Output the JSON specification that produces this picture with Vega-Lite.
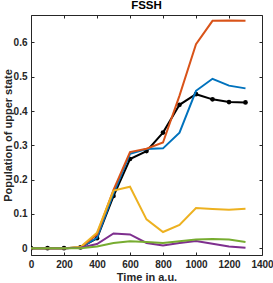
{
  "$schema": "https://vega.github.io/schema/vega-lite/v6.json",
  "width": 231,
  "height": 240,
  "autosize": {"type": "none"},
  "padding": {"left": 31, "top": 15, "right": 11, "bottom": 28},
  "background": "white",
  "title": {"text": "FSSH", "font": "Liberation Sans", "fontSize": 11.5, "fontWeight": "bold", "color": "black", "offset": 3},
  "config": {
    "view": {"stroke": null},
    "axis": {"grid": false, "domainColor": "#262626", "tickColor": "#262626", "labelColor": "#262626", "titleColor": "#262626", "labelFont": "Liberation Sans", "titleFont": "Liberation Sans", "labelFontWeight": "bold", "titleFontWeight": "bold", "labelFontSize": 10, "titleFontSize": 11, "domainWidth": 1, "tickWidth": 1, "labelOverlap": false, "labelFlush": false}
  },
  "datasets": {
    "curves": [
      {"s": "blue", "t": 0, "v": 0}, {"s": "blue", "t": 100, "v": 0}, {"s": "blue", "t": 200, "v": 0}, {"s": "blue", "t": 300, "v": 0.002}, {"s": "blue", "t": 400, "v": 0.03}, {"s": "blue", "t": 500, "v": 0.16}, {"s": "blue", "t": 600, "v": 0.275}, {"s": "blue", "t": 700, "v": 0.289}, {"s": "blue", "t": 800, "v": 0.291}, {"s": "blue", "t": 900, "v": 0.337}, {"s": "blue", "t": 1000, "v": 0.459}, {"s": "blue", "t": 1100, "v": 0.494}, {"s": "blue", "t": 1200, "v": 0.474}, {"s": "blue", "t": 1300, "v": 0.466},
      {"s": "orange", "t": 0, "v": 0}, {"s": "orange", "t": 100, "v": 0}, {"s": "orange", "t": 200, "v": 0}, {"s": "orange", "t": 300, "v": 0.002}, {"s": "orange", "t": 400, "v": 0.04}, {"s": "orange", "t": 500, "v": 0.17}, {"s": "orange", "t": 600, "v": 0.28}, {"s": "orange", "t": 700, "v": 0.29}, {"s": "orange", "t": 800, "v": 0.308}, {"s": "orange", "t": 900, "v": 0.445}, {"s": "orange", "t": 1000, "v": 0.595}, {"s": "orange", "t": 1100, "v": 0.663}, {"s": "orange", "t": 1200, "v": 0.664}, {"s": "orange", "t": 1300, "v": 0.663},
      {"s": "yellow", "t": 0, "v": 0}, {"s": "yellow", "t": 100, "v": 0}, {"s": "yellow", "t": 200, "v": 0}, {"s": "yellow", "t": 300, "v": 0.003}, {"s": "yellow", "t": 400, "v": 0.045}, {"s": "yellow", "t": 500, "v": 0.168}, {"s": "yellow", "t": 600, "v": 0.179}, {"s": "yellow", "t": 700, "v": 0.084}, {"s": "yellow", "t": 800, "v": 0.047}, {"s": "yellow", "t": 900, "v": 0.068}, {"s": "yellow", "t": 1000, "v": 0.117}, {"s": "yellow", "t": 1100, "v": 0.114}, {"s": "yellow", "t": 1200, "v": 0.112}, {"s": "yellow", "t": 1300, "v": 0.115},
      {"s": "purple", "t": 0, "v": 0}, {"s": "purple", "t": 100, "v": 0}, {"s": "purple", "t": 200, "v": 0}, {"s": "purple", "t": 300, "v": 0.001}, {"s": "purple", "t": 400, "v": 0.012}, {"s": "purple", "t": 500, "v": 0.043}, {"s": "purple", "t": 600, "v": 0.04}, {"s": "purple", "t": 700, "v": 0.015}, {"s": "purple", "t": 800, "v": 0.008}, {"s": "purple", "t": 900, "v": 0.015}, {"s": "purple", "t": 1000, "v": 0.021}, {"s": "purple", "t": 1100, "v": 0.013}, {"s": "purple", "t": 1200, "v": 0.005}, {"s": "purple", "t": 1300, "v": 0.001},
      {"s": "green", "t": 0, "v": 0}, {"s": "green", "t": 100, "v": 0}, {"s": "green", "t": 200, "v": 0}, {"s": "green", "t": 300, "v": 0}, {"s": "green", "t": 400, "v": 0.005}, {"s": "green", "t": 500, "v": 0.015}, {"s": "green", "t": 600, "v": 0.02}, {"s": "green", "t": 700, "v": 0.018}, {"s": "green", "t": 800, "v": 0.015}, {"s": "green", "t": 900, "v": 0.02}, {"s": "green", "t": 1000, "v": 0.025}, {"s": "green", "t": 1100, "v": 0.027}, {"s": "green", "t": 1200, "v": 0.025}, {"s": "green", "t": 1300, "v": 0.018}
    ],
    "ref": [
      {"t": 0, "v": 0}, {"t": 100, "v": 0}, {"t": 200, "v": 0}, {"t": 300, "v": 0.002}, {"t": 400, "v": 0.029}, {"t": 500, "v": 0.152}, {"t": 600, "v": 0.26}, {"t": 700, "v": 0.283}, {"t": 800, "v": 0.337}, {"t": 900, "v": 0.418}, {"t": 1000, "v": 0.449}, {"t": 1100, "v": 0.434}, {"t": 1200, "v": 0.426}, {"t": 1300, "v": 0.425}
    ]
  },
  "layer": [
    {
      "data": {"name": "ref"},
      "mark": {"type": "line", "color": "black", "strokeWidth": 2, "point": {"filled": true, "color": "black", "size": 22}, "clip": true},
      "encoding": {
        "x": {"field": "t", "type": "quantitative", "scale": {"domain": [0, 1400], "nice": false},
          "axis": {"orient": "bottom", "values": [0, 200, 400, 600, 800, 1000, 1200, 1400], "format": "d", "title": "Time in a.u.", "tickSize": -3, "labelPadding": 7, "titlePadding": 2}},
        "y": {"field": "v", "type": "quantitative", "scale": {"domain": [-0.02, 0.68], "nice": false, "zero": false},
          "axis": {"orient": "left", "values": [0, 0.1, 0.2, 0.3, 0.4, 0.5, 0.6], "labelExpr": "datum.value == 0 ? '0' : format(datum.value, '.1f')", "title": "Population of upper state", "tickSize": -3, "labelPadding": 7, "titlePadding": 0}}
      }
    },
    {
      "data": {"name": "curves"},
      "mark": {"type": "line", "strokeWidth": 2, "clip": true},
      "encoding": {
        "x": {"field": "t", "type": "quantitative", "axis": {"orient": "top", "values": [0, 200, 400, 600, 800, 1000, 1200, 1400], "labels": false, "title": null, "tickSize": -3}},
        "y": {"field": "v", "type": "quantitative", "axis": {"orient": "right", "values": [0, 0.1, 0.2, 0.3, 0.4, 0.5, 0.6], "labels": false, "title": null, "tickSize": -3}},
        "color": {"field": "s", "type": "nominal", "legend": null,
          "scale": {"domain": ["blue", "orange", "yellow", "purple", "green"], "range": ["#0072BD", "#D95319", "#EDB120", "#7E2F8E", "#77AC30"]}}
      }
    }
  ],
  "resolve": {"axis": {"x": "independent", "y": "independent"}}
}
